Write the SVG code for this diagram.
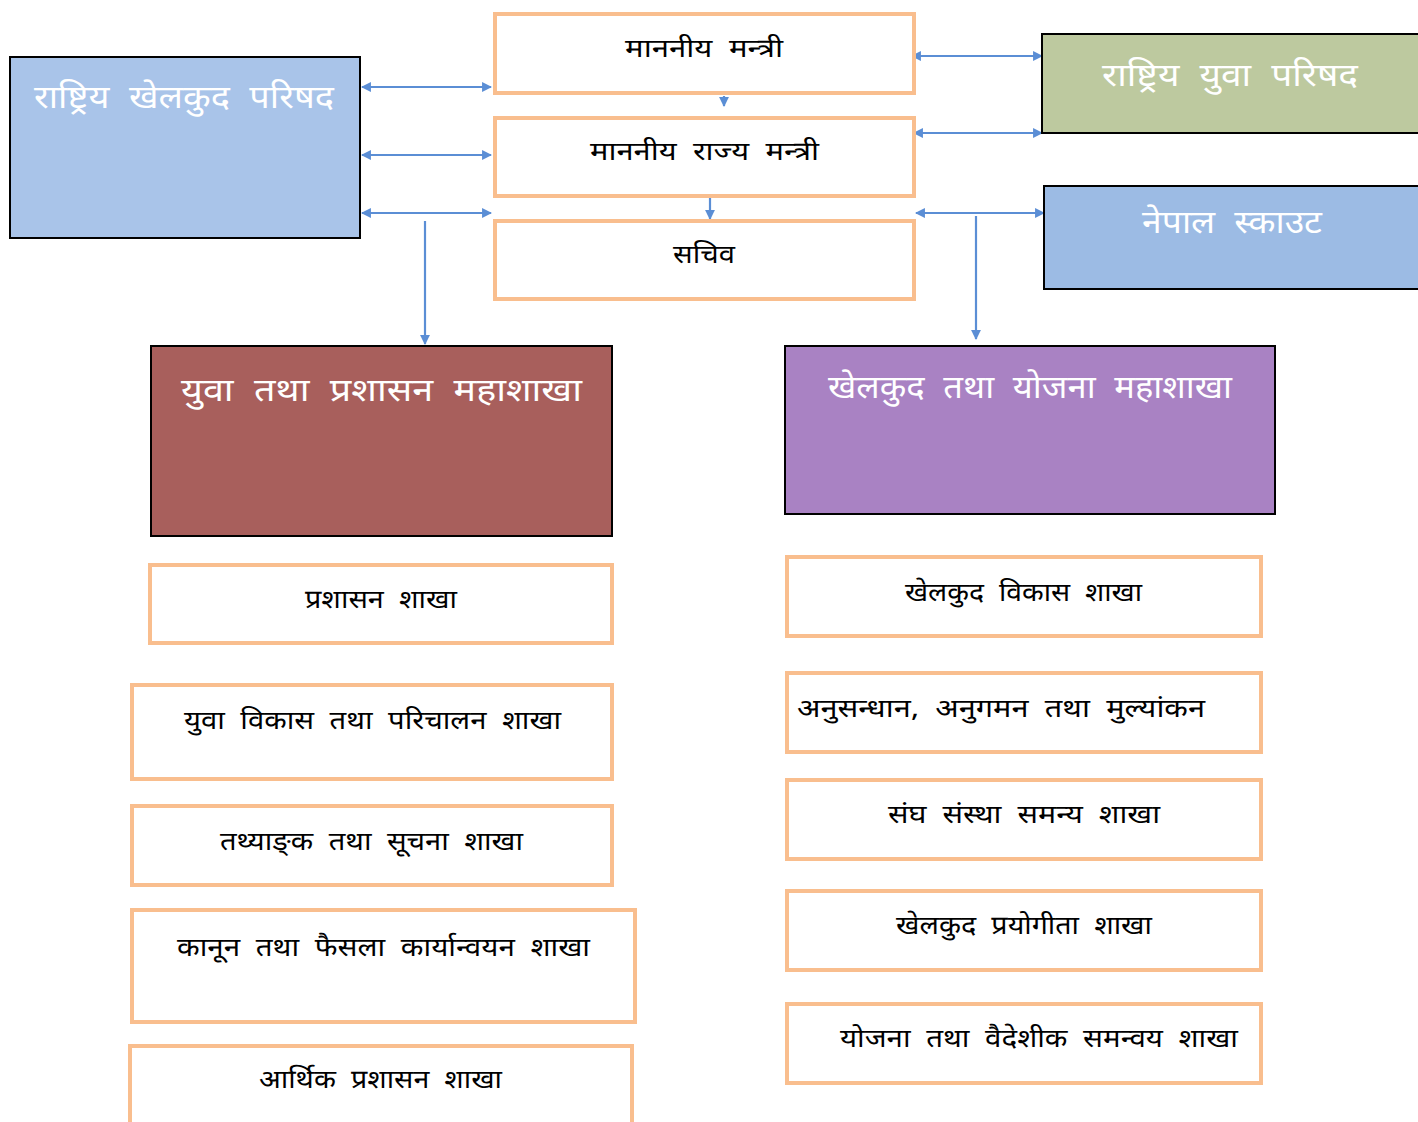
<svg xmlns="http://www.w3.org/2000/svg" width="1418" height="1122" viewBox="0 0 1418 1122">
<defs>
<style>
.ob{fill:#ffffff;stroke:#F9BE8E;stroke-width:4}
.cb{stroke:#000000;stroke-width:2}
.t{font-family:"Noto Sans Devanagari","Noto Sans",sans-serif;font-size:26px;fill:#000000;word-spacing:7px}
.w{font-family:"Noto Sans Devanagari","Noto Sans",sans-serif;font-size:32px;fill:#ffffff;word-spacing:9px}
.c{stroke:#5B8ED5;stroke-width:2.2;fill:none}
</style>
<marker id="ae" viewBox="0 0 10 10" refX="9" refY="5" markerWidth="4.5" markerHeight="4.5" orient="auto">
<path d="M0,0 L10,5 L0,10 z" fill="#5B8ED5"/>
</marker>
<marker id="as" viewBox="0 0 10 10" refX="1" refY="5" markerWidth="4.5" markerHeight="4.5" orient="auto">
<path d="M10,0 L0,5 L10,10 z" fill="#5B8ED5"/>
</marker>
</defs>
<rect width="1418" height="1122" fill="#ffffff"/>

<g id="connectors">
<line class="c" x1="362" y1="87" x2="491" y2="87" marker-start="url(#as)" marker-end="url(#ae)"/>
<line class="c" x1="362" y1="155" x2="491" y2="155" marker-start="url(#as)" marker-end="url(#ae)"/>
<line class="c" x1="362" y1="213" x2="491" y2="213" marker-start="url(#as)" marker-end="url(#ae)"/>
<line class="c" x1="912" y1="56" x2="1042" y2="56" marker-start="url(#as)" marker-end="url(#ae)"/>
<line class="c" x1="914" y1="133" x2="1042" y2="133" marker-start="url(#as)" marker-end="url(#ae)"/>
<line class="c" x1="916" y1="213" x2="1044" y2="213" marker-start="url(#as)" marker-end="url(#ae)"/>
<line class="c" x1="724" y1="96" x2="724" y2="106" marker-end="url(#ae)"/>
<line class="c" x1="710" y1="197" x2="710" y2="219" marker-end="url(#ae)"/>
<line class="c" x1="425" y1="221" x2="425" y2="344" marker-end="url(#ae)"/>
<line class="c" x1="976" y1="216" x2="976" y2="339" marker-end="url(#ae)"/>
</g>

<g id="minister">
<rect class="ob" x="495" y="14" width="419" height="79"/>
<text class="t" x="625" y="57" textLength="158" lengthAdjust="spacingAndGlyphs">माननीय मन्त्री</text>
</g>
<g id="state-minister">
<rect class="ob" x="495" y="118" width="419" height="78"/>
<text class="t" x="590" y="160" textLength="229" lengthAdjust="spacingAndGlyphs">माननीय राज्य मन्त्री</text>
</g>
<g id="secretary">
<rect class="ob" x="495" y="221" width="419" height="78"/>
<text class="t" x="673" y="263" textLength="62" lengthAdjust="spacingAndGlyphs">सचिव</text>
</g>

<g id="sports-council">
<rect class="cb" x="10" y="57" width="350" height="181" fill="#A9C4E9"/>
<text class="w" x="34" y="108" textLength="300" lengthAdjust="spacingAndGlyphs">राष्ट्रिय खेलकुद परिषद</text>
</g>
<g id="youth-council">
<rect class="cb" x="1042" y="34" width="380" height="99" fill="#BDC99F"/>
<text class="w" x="1102" y="86" textLength="256" lengthAdjust="spacingAndGlyphs">राष्ट्रिय युवा परिषद</text>
</g>
<g id="nepal-scout">
<rect class="cb" x="1044" y="186" width="378" height="103" fill="#9CBBE4"/>
<text class="w" x="1142" y="233" textLength="180" lengthAdjust="spacingAndGlyphs">नेपाल स्काउट</text>
</g>

<g id="youth-admin-division">
<rect class="cb" x="151" y="346" width="461" height="190" fill="#A85F5C"/>
<text class="w" x="181" y="401" font-size="34" textLength="401" lengthAdjust="spacingAndGlyphs">युवा तथा प्रशासन महाशाखा</text>
</g>
<g id="sports-planning-division">
<rect class="cb" x="785" y="346" width="490" height="168" fill="#A982C3"/>
<text class="w" x="828" y="398" font-size="34" textLength="404" lengthAdjust="spacingAndGlyphs">खेलकुद तथा योजना महाशाखा</text>
</g>

<g id="admin-branch">
<rect class="ob" x="150" y="565" width="462" height="78"/>
<text class="t" x="305" y="608" textLength="152" lengthAdjust="spacingAndGlyphs">प्रशासन शाखा</text>
</g>
<g id="youth-dev-branch">
<rect class="ob" x="132" y="685" width="480" height="94"/>
<text class="t" x="184" y="729" textLength="377" lengthAdjust="spacingAndGlyphs">युवा विकास तथा परिचालन शाखा</text>
</g>
<g id="stats-branch">
<rect class="ob" x="132" y="806" width="480" height="79"/>
<text class="t" x="220" y="850" textLength="303" lengthAdjust="spacingAndGlyphs">तथ्याङ्‌क तथा सूचना शाखा</text>
</g>
<g id="law-branch">
<rect class="ob" x="132" y="910" width="503" height="112"/>
<text class="t" x="177" y="956" textLength="413" lengthAdjust="spacingAndGlyphs">कानून तथा फैसला कार्यान्वयन शाखा</text>
</g>
<g id="finance-branch">
<rect class="ob" x="130" y="1046" width="502" height="90"/>
<text class="t" x="259" y="1088" textLength="243" lengthAdjust="spacingAndGlyphs">आर्थिक प्रशासन शाखा</text>
</g>

<g id="sports-dev-branch">
<rect class="ob" x="787" y="557" width="474" height="79"/>
<text class="t" x="905" y="601" textLength="237" lengthAdjust="spacingAndGlyphs">खेलकुद विकास शाखा</text>
</g>
<g id="research-branch">
<rect class="ob" x="787" y="673" width="474" height="79"/>
<text class="t" x="797" y="717" textLength="408" lengthAdjust="spacingAndGlyphs">अनुसन्धान, अनुगमन तथा मुल्यांकन</text>
</g>
<g id="federation-branch">
<rect class="ob" x="787" y="780" width="474" height="79"/>
<text class="t" x="888" y="823" textLength="272" lengthAdjust="spacingAndGlyphs">संघ संस्था समन्य शाखा</text>
</g>
<g id="competition-branch">
<rect class="ob" x="787" y="891" width="474" height="79"/>
<text class="t" x="896" y="934" textLength="256" lengthAdjust="spacingAndGlyphs">खेलकुद प्रयोगीता शाखा</text>
</g>
<g id="planning-branch">
<rect class="ob" x="787" y="1004" width="474" height="79"/>
<text class="t" x="840" y="1047" textLength="398" lengthAdjust="spacingAndGlyphs">योजना तथा वैदेशीक समन्वय शाखा</text>
</g>
</svg>
